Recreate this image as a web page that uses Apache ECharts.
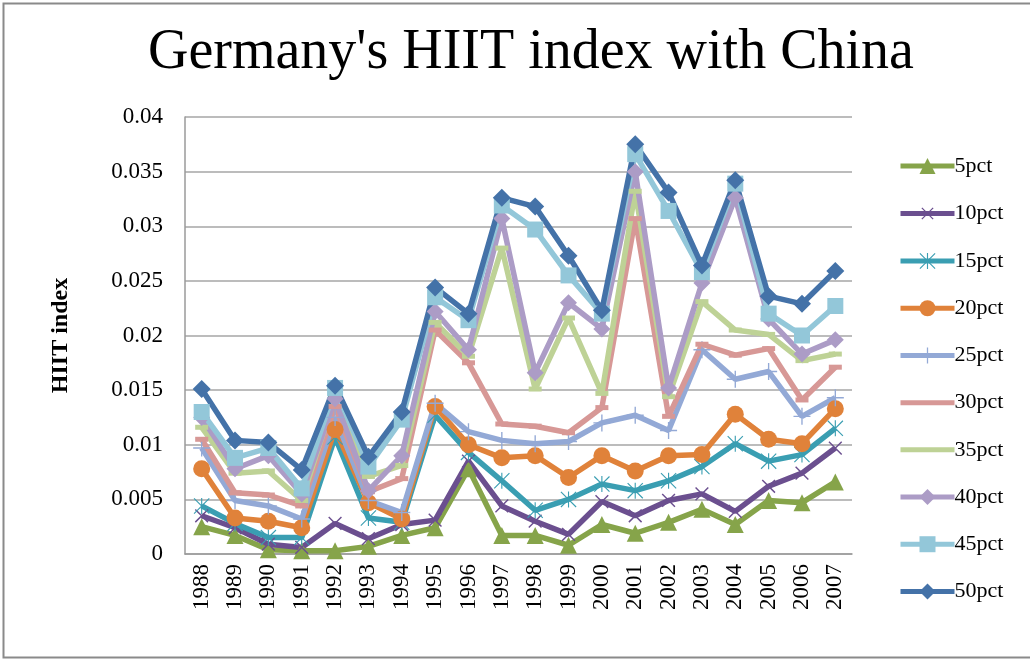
<!DOCTYPE html>
<html><head><meta charset="utf-8">
<script src="https://cdn.jsdelivr.net/npm/echarts@6/dist/echarts.min.js"></script>
<style>html,body{margin:0;padding:0;background:#fff}#c{width:1030px;height:662px}</style>
</head><body><div id="c"></div>
<script>
const years = ['1988','1989','1990','1991','1992','1993','1994','1995','1996','1997','1998','1999','2000','2001','2002','2003','2004','2005','2006','2007'];
const yTicks = [0,0.005,0.01,0.015,0.02,0.025,0.03,0.035,0.04];
const seriesNames = ['5pct','10pct','15pct','20pct','25pct','30pct','35pct','40pct','45pct','50pct'];
const p5  = [0.0025,0.0017,0.0004,0.0003,0.0003,0.0007,0.0017,0.0024,0.0078,0.0017,0.0017,0.0008,0.0027,0.0019,0.0029,0.0041,0.0027,0.0049,0.0047,0.0066];
const p10 = [0.0035,0.0024,0.0009,0.0006,0.0028,0.0014,0.0027,0.0031,0.0085,0.0044,0.0030,0.0018,0.0048,0.0035,0.0049,0.0055,0.0039,0.0062,0.0074,0.0097];
const p15 = [0.0044,0.0028,0.0015,0.0015,0.0107,0.0033,0.0029,0.0127,0.0093,0.0067,0.0040,0.0050,0.0064,0.0058,0.0067,0.0080,0.0101,0.0085,0.0091,0.0115];
const p20 = [0.0078,0.0033,0.0030,0.0024,0.0114,0.0047,0.0032,0.0135,0.0100,0.0088,0.0090,0.0070,0.0090,0.0076,0.0090,0.0091,0.0128,0.0105,0.0101,0.0133];
const p25 = [0.0097,0.0049,0.0044,0.0032,0.0125,0.0049,0.0038,0.0138,0.0112,0.0104,0.0101,0.0103,0.0120,0.0127,0.0113,0.0187,0.0160,0.0167,0.0126,0.0143];
const p30 = [0.0105,0.0056,0.0054,0.0044,0.0135,0.0057,0.0069,0.0205,0.0175,0.0119,0.0117,0.0111,0.0134,0.0307,0.0126,0.0192,0.0182,0.0188,0.0141,0.0171];
const p35 = [0.0116,0.0074,0.0076,0.0049,0.0145,0.0071,0.0081,0.0212,0.0181,0.0280,0.0151,0.0216,0.0147,0.0332,0.0144,0.0231,0.0205,0.0201,0.0177,0.0183];
const p40 = [0.0125,0.0078,0.0090,0.0055,0.0142,0.0058,0.0090,0.0222,0.0187,0.0307,0.0166,0.0230,0.0206,0.0350,0.0152,0.0248,0.0326,0.0215,0.0183,0.0196];
const p45 = [0.0130,0.0088,0.0097,0.0060,0.0152,0.0080,0.0123,0.0235,0.0214,0.0319,0.0297,0.0255,0.0220,0.0366,0.0314,0.0258,0.0339,0.0220,0.0200,0.0227];
const p50 = [0.0151,0.0104,0.0102,0.0077,0.0154,0.0089,0.0130,0.0244,0.0220,0.0326,0.0318,0.0273,0.0223,0.0375,0.0331,0.0264,0.0342,0.0236,0.0229,0.0259];

const FONT = 'Liberation Serif';
const plus = 'path://M9.2,0 L10.8,0 L10.8,20 L9.2,20 Z M0,9.2 L20,9.2 L20,10.8 L0,10.8 Z';
const star = 'path://M9.3,0 L10.7,0 L10.7,20 L9.3,20 Z M0,1 L1,0 L20,19 L19,20 Z M19,0 L20,1 L1,20 L0,19 Z';
const specs = [
  {d:p5,  c:'#86A44A', s:'triangle', z:17},
  {d:p10, c:'#6B4F8F', s:plus, z:18, rot:45},
  {d:p15, c:'#3A9EB2', s:star, z:16},
  {d:p20, c:'#E0823A', s:'circle', z:17},
  {d:p25, c:'#93A9D6', s:plus, z:17},
  {d:p30, c:'#D79896', s:'rect', z:[13,5], noLegendMark:true},
  {d:p35, c:'#BED296', s:'rect', z:[13,5], noLegendMark:true},
  {d:p40, c:'#AC9CC6', s:'diamond', z:17},
  {d:p45, c:'#93C7D9', s:'rect', z:16},
  {d:p50, c:'#4472A8', s:'diamond', z:18}
];
const series = specs.map((sp,i)=>({
  name: seriesNames[i], type:'line', data: sp.d,
  symbol: sp.s, symbolSize: sp.z, symbolRotate: sp.rot||0, showAllSymbol:true,
  lineStyle:{color:sp.c, width:5.5}, itemStyle:{color:sp.c},
  emphasis:{disabled:true}, animation:false
}));
const legendData = seriesNames.map((n,i)=> specs[i].noLegendMark ? {name:n, itemStyle:{opacity:0}} : {name:n});
const chart = echarts.init(document.getElementById('c'));
chart.setOption({
  animation:false,
  title:{text:"Germany's HIIT index with China", left:143, top:20,
    textStyle:{fontFamily:FONT, fontSize:56, fontWeight:'normal', color:'#000'}},
  graphic:[{type:'rect', shape:{x:3.5,y:3.5,width:1040,height:654}, style:{fill:'none', stroke:'#8a8a8a', lineWidth:2}}],
  legend:{orient:'vertical', left:893, top:150, itemGap:25.2, itemWidth:54, itemHeight:20,
    data: legendData, lineStyle:{width:5},
    textStyle:{fontFamily:FONT, fontSize:22, color:'#000', padding:[0,0,0,-5]}},
  grid:{left:185, right:178, top:117, bottom:108},
  xAxis:{type:'category', data:years, boundaryGap:true,
    axisLine:{lineStyle:{color:'#9a9a9a', width:1.5}}, axisTick:{show:false},
    axisLabel:{rotate:90, interval:0, fontFamily:FONT, fontSize:23, color:'#000', margin:10}},
  yAxis:{type:'value', min:0, max:0.04, interval:0.005,
    name:'HIIT index', nameLocation:'middle', nameGap:112, nameRotate:90,
    nameTextStyle:{fontFamily:FONT, fontSize:24, fontWeight:'bold', color:'#000'},
    axisLine:{show:true, lineStyle:{color:'#9a9a9a', width:1.5}}, axisTick:{show:false},
    splitLine:{lineStyle:{color:'#a6a6a6', width:1.5}},
    axisLabel:{fontFamily:FONT, fontSize:23, color:'#000', margin:22,
      formatter:v=>{const t=yTicks.find(x=>Math.abs(x-v)<1e-9); return String(t!==undefined?t:v);}}},
  series: series
});
</script></body></html>
